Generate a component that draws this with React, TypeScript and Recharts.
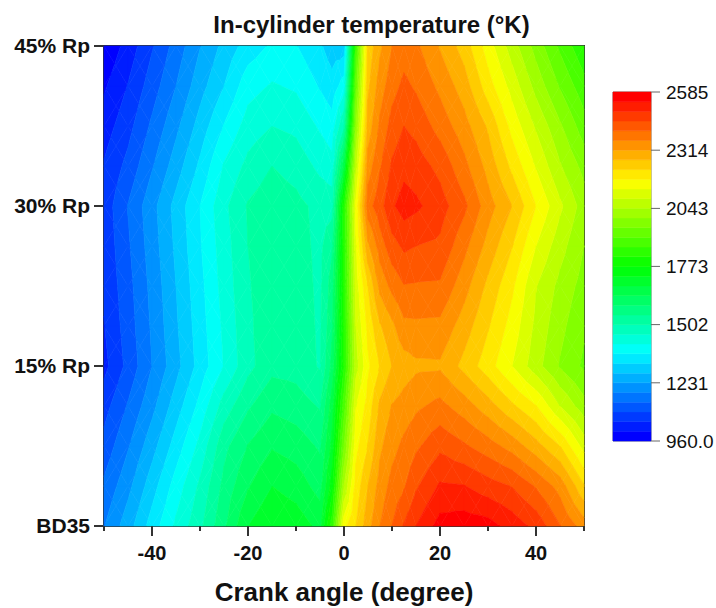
import {
  Bar,
  BarChart,
  ReferenceArea,
  Scatter,
  ScatterChart,
  XAxis,
  YAxis,
} from 'recharts'

const FONT = '"Liberation Sans", Arial, sans-serif'
const AXIS_COLOR = '#333333'
const TEXT_COLOR = '#111111'

// colour scale
const MIN_TEMP = 960
const MAX_TEMP = 2585
const BAND_COUNT = 36
const BAND_STEP = (MAX_TEMP - MIN_TEMP) / BAND_COUNT
const scaleTicks = [960, 1231, 1502, 1773, 2043, 2314, 2585]

// x positions of the measured columns (degree)
const crankAngles = [
  -50, -45, -40, -35, -30, -25, -20, -15, -10, -5, -2.5, 0, 2.5, 5, 7.5, 10, 12.5, 15, 20, 25, 30,
  35, 40, 45, 50,
]

// y axis
const loadTicks = [0, 1, 2, 3]
const loadLabels = ['BD35', '15% Rp', '30% Rp', '45% Rp']
const angleTicks = [-50, -40, -30, -20, -10, 0, 10, 20, 30, 40, 50]

// in contour steps above 960 K (1 step = 45.14 K)
const rowAt0 = [4.95, 6.55, 8.45, 10.2, 11.75, 13.8, 16, 16.95, 16.6, 15.7, 19.5, 26.7, 28, 29.6, 31, 32, 33.1, 34, 35.4, 35.6, 35.4, 34.6, 33.7, 32.05, 30.5]
const rowAt025 = [4.2, 5.7, 7.55, 9.45, 11.2, 13.3, 14.9, 16, 15.55, 14.6, 17.5, 24, 27.4, 29, 30.4, 31.35, 31.9, 32.85, 34.15, 34.05, 33.45, 32.95, 31.9, 30.6, 28.1]
const rowAt05 = [3.35, 4.9, 6.6, 8.45, 10.3, 12.7, 14.05, 14.9, 14.55, 13.85, 16.3, 22, 26.7, 28.05, 29.8, 30.65, 31.25, 31.8, 32.75, 32.15, 31.45, 30.6, 29.4, 28, 25.6]
const rowAt075 = [2.6, 4.1, 5.7, 7.5, 9.3, 11.45, 12.85, 13.8, 13.5, 12.9, 15.5, 20.5, 25.95, 27.4, 29.2, 30.05, 30.4, 30.8, 31.3, 30.5, 29.45, 28.2, 27.05, 25, 23.4]
const rowAt1 = [1.7, 3.3, 5, 6.65, 8.4, 10.05, 11.7, 12.7, 12.6, 11.9, 14.3, 19, 24.6, 26.8, 28.05, 29, 29.5, 29.8, 29.85, 28.7, 27.45, 26, 24.4, 22.9, 21.8]
const rowAt125 = [1.95, 3.5, 5.15, 6.85, 8.55, 10.2, 11.8, 12.65, 12.55, 11.85, 13.8, 19, 25, 27.3, 28.9, 29.75, 30.75, 30.8, 30.75, 29.5, 28.1, 26.6, 24.75, 23.3, 22.15]
const rowAt15 = [2.15, 3.65, 5.3, 7, 8.7, 10.4, 11.9, 12.65, 12.5, 11.8, 13.5, 19, 25.5, 28, 30.3, 31.3, 31.95, 31.9, 31.85, 30.4, 28.75, 27.2, 25.05, 23.7, 22.6]
const rowAt175 = [2.3, 3.85, 5.5, 7.2, 8.9, 10.55, 12, 12.7, 12.4, 11.75, 12.8, 19, 25.9, 29.8, 31.5, 32.6, 33.2, 33, 32.8, 31.3, 29.65, 28.05, 26, 24.4, 23]
const rowAt2 = [2.4, 4.05, 5.65, 7.35, 9, 10.75, 12.1, 12.6, 12.3, 11.7, 11.6, 19, 26.3, 31.6, 32.6, 33.85, 34.45, 34.2, 33.45, 32.25, 30.45, 29, 27, 25.2, 23.5]
const rowAt225 = [2.1, 3.3, 4.9, 6.5, 8.2, 10.1, 11.3, 12, 11.6, 10.75, 10.35, 15.5, 24.7, 30.5, 31.9, 33.15, 33.7, 33.5, 32.7, 31.3, 29.65, 27.75, 25.9, 24.1, 22.65]
const rowAt25 = [1.5, 2.65, 4.2, 5.75, 7.4, 9.05, 10.45, 11, 10.75, 9.85, 9.4, 12, 23, 29.4, 31.2, 32.4, 33, 32.7, 31.6, 30.4, 28.85, 26.65, 24.85, 23.15, 21.45]
const rowAt275 = [0.85, 2.05, 3.5, 5, 6.6, 8, 9.6, 10.1, 9.85, 8.9, 8.4, 9.5, 21.5, 28.8, 30.5, 31.6, 32.25, 31.85, 30.75, 29.5, 27.45, 25.6, 23.65, 21.9, 20.35]
const rowAt3 = [0.1, 1.4, 2.9, 4.4, 5.95, 7.3, 8.45, 9.15, 9.05, 8.15, 7.45, 7.5, 20, 28.3, 29.8, 31, 31.5, 31.2, 29.9, 28.55, 26.5, 24.5, 22.6, 20.8, 19.2]

const loadRows = [0, 0.25, 0.5, 0.75, 1, 1.25, 1.5, 1.75, 2, 2.25, 2.5, 2.75, 3]
const levelTable = [rowAt0, rowAt025, rowAt05, rowAt075, rowAt1, rowAt125, rowAt15, rowAt175, rowAt2, rowAt225, rowAt25, rowAt275, rowAt3]

const gridNodes = loadRows.flatMap((load, r) =>
  crankAngles.map((angle, c) => ({ angle, load, r, c, temperature: MIN_TEMP + levelTable[r][c] * BAND_STEP })),
)

const PLOT_W = 480
const PLOT_H = 480
const PX_PER_DEGREE = PLOT_W / 100
const PX_PER_LOAD = PLOT_H / 3

function bandColor(i: number) {
  const hue = (240 * (BAND_COUNT - 1 - i)) / (BAND_COUNT - 1)
  return `hsl(${hue}, 100%, 50%)`
}

type Vertex = { x: number; y: number; v: number }

// keep the part of the polygon above or below a level
function clipLevel(poly: Vertex[], level: number, keepAbove: boolean) {
  const out: Vertex[] = []
  const inside = (p: Vertex) => (keepAbove ? p.v >= level : p.v <= level)
  poly.forEach((p, i) => {
    const q = poly[(i + 1) % poly.length]
    if (inside(p)) out.push(p)
    if (inside(p) !== inside(q)) {
      const t = (level - p.v) / (q.v - p.v)
      out.push({ x: p.x + (q.x - p.x) * t, y: p.y + (q.y - p.y) * t, v: level })
    }
  })
  return out
}

function triangleBands(tri: Vertex[], key: string) {
  const values = tri.map((p) => p.v)
  const from = Math.max(0, Math.floor(Math.min(...values)))
  const to = Math.min(BAND_COUNT - 1, Math.floor(Math.max(...values)))
  const paths = []
  for (let k = from; k <= to; k++) {
    const lower = k === 0 ? tri : clipLevel(tri, k, true)
    const poly = k === BAND_COUNT - 1 ? lower : clipLevel(lower, k + 1, false)
    if (poly.length < 3) continue
    const d = 'M' + poly.map((p) => `${p.x.toFixed(2)},${p.y.toFixed(2)}`).join('L') + 'Z'
    paths.push(<path key={key + k} d={d} fill={bandColor(k)} stroke={bandColor(k)} strokeWidth={0.6} />)
  }
  return paths
}

// every grid node draws the contour bands of the cell to its upper right
function ContourCell(props: any) {
  const { cx, cy, payload } = props
  const { r, c } = payload
  if (r >= loadRows.length - 1 || c >= crankAngles.length - 1) return <g />
  const w = (crankAngles[c + 1] - crankAngles[c]) * PX_PER_DEGREE
  const h = (loadRows[r + 1] - loadRows[r]) * PX_PER_LOAD
  const a = { x: cx, y: cy, v: levelTable[r][c] }
  const b = { x: cx + w, y: cy, v: levelTable[r][c + 1] }
  const d = { x: cx + w, y: cy - h, v: levelTable[r + 1][c + 1] }
  const e = { x: cx, y: cy - h, v: levelTable[r + 1][c] }
  const mid = { x: cx + w / 2, y: cy - h / 2, v: (a.v + b.v + d.v + e.v) / 4 }
  return (
    <g>
      {triangleBands([a, b, mid], 's')}
      {triangleBands([b, d, mid], 'e')}
      {triangleBands([d, e, mid], 'n')}
      {triangleBands([e, a, mid], 'w')}
    </g>
  )
}

function AngleTick(props: any) {
  const { x, y, payload } = props
  const labelled = payload.value % 20 === 0 && Math.abs(payload.value) < 50
  return (
    <g>
      <line x1={x} x2={x} y1={y} y2={y + (labelled ? 10 : 5)} stroke={AXIS_COLOR} strokeWidth={2} />
      {labelled && (
        <text x={x} y={y + 34} textAnchor="middle" fontFamily={FONT} fontWeight={700} fontSize={20} fill={TEXT_COLOR}>
          {payload.value}
        </text>
      )}
    </g>
  )
}

const bandKeys = Array.from({ length: BAND_COUNT }, (_, i) => `band${i}`)
const scaleData = [Object.fromEntries(bandKeys.map((k) => [k, BAND_STEP]))]

function ColorScale() {
  return (
    <div style={{ position: 'absolute', left: 600, top: 0 }}>
      <BarChart
        width={116}
        height={608}
        data={scaleData}
        barCategoryGap={0}
        margin={{ top: 92, left: 13, right: 13, bottom: 167 }}
      >
        <XAxis hide />
        <YAxis
          orientation="right"
          width={52}
          type="number"
          domain={[0, MAX_TEMP - MIN_TEMP]}
          ticks={scaleTicks.map((t) => t - MIN_TEMP)}
          interval={0}
          tickFormatter={(v: number) => (v === 0 ? '960.0' : String(v + MIN_TEMP))}
          axisLine={false}
          tickSize={9}
          tickMargin={6}
          tickLine={{ stroke: '#666666', strokeWidth: 1 }}
          tick={{ fontFamily: FONT, fontSize: 19, fill: TEXT_COLOR }}
        />
        {bandKeys.map((k, i) => (
          <Bar
            key={k}
            dataKey={k}
            stackId="scale"
            fill={bandColor(i)}
            stroke={bandColor(i)}
            strokeWidth={0.5}
            isAnimationActive={false}
          />
        ))}
        <ReferenceArea y1={0} y2={MAX_TEMP - MIN_TEMP} fill="none" stroke="#777777" strokeWidth={1} />
      </BarChart>
    </div>
  )
}

export default function App() {
  return (
    <div style={{ position: 'absolute', left: 0, top: 0, width: 716, height: 608, background: '#fff', overflow: 'hidden' }}>
      <div
        style={{
          position: 'absolute',
          left: 0,
          top: 11,
          width: 743,
          textAlign: 'center',
          fontFamily: FONT,
          fontWeight: 700,
          fontSize: 24,
          color: TEXT_COLOR,
        }}
      >
        In-cylinder temperature (°K)
      </div>
      <ScatterChart width={716} height={608} margin={{ top: 46, left: 44, right: 132, bottom: 50 }}>
        <XAxis
          dataKey="angle"
          type="number"
          domain={[-50, 50]}
          ticks={angleTicks}
          interval={0}
          height={32}
          tickSize={0}
          tickMargin={0}
          tickLine={false}
          axisLine={false}
          tick={AngleTick}
        />
        <YAxis
          dataKey="load"
          type="number"
          domain={[0, 3]}
          ticks={loadTicks}
          interval={0}
          width={60}
          tickFormatter={(v: number) => loadLabels[v]}
          tickSize={10}
          tickMargin={4}
          axisLine={false}
          tickLine={{ stroke: AXIS_COLOR, strokeWidth: 2 }}
          tick={{ fontFamily: FONT, fontWeight: 700, fontSize: 21, fill: TEXT_COLOR }}
        />
        <Scatter data={gridNodes} shape={ContourCell} isAnimationActive={false} />
        <ReferenceArea x1={-50} x2={50} y1={0} y2={3} fill="none" stroke={AXIS_COLOR} strokeWidth={2} />
      </ScatterChart>
      <div
        style={{
          position: 'absolute',
          left: 0,
          top: 577,
          width: 688,
          textAlign: 'center',
          fontFamily: FONT,
          fontWeight: 700,
          fontSize: 26,
          color: TEXT_COLOR,
        }}
      >
        Crank angle (degree)
      </div>
      <ColorScale />
    </div>
  )
}
